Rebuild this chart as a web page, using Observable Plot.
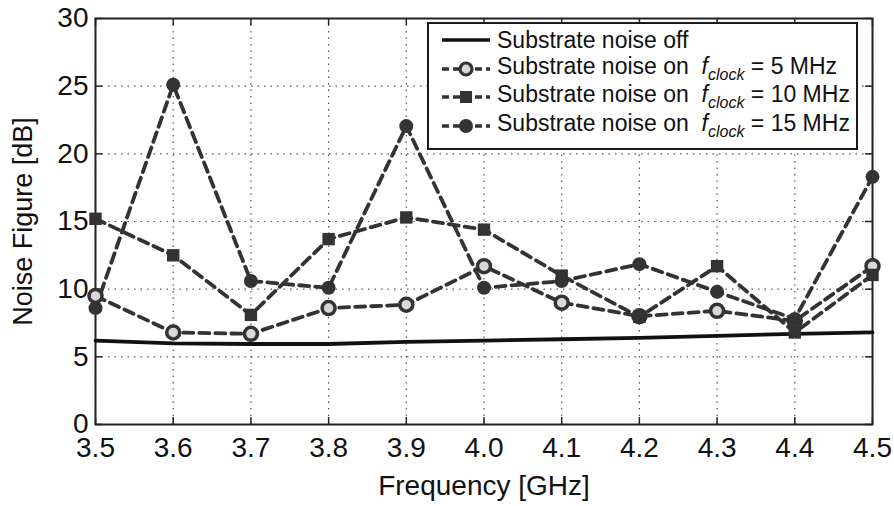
<!DOCTYPE html>
<html>
<head>
<meta charset="utf-8">
<script src="https://cdn.jsdelivr.net/npm/d3@7"></script>
<script src="https://cdn.jsdelivr.net/npm/@observablehq/plot@0.6"></script>
<style>
  html, body { margin: 0; padding: 0; background: #fff; }
  #wrap { position: relative; width: 894px; height: 506px; font-family: "Liberation Sans", Arial, sans-serif; }
  #legend {
    position: absolute; left: 427px; top: 22px; width: 427px; height: 124px;
    border: 2px solid #1a1a1a; background: #fff; box-sizing: content-box;
    font-size: 23px; color: #111; line-height: 1;
  }
  .row { display: flex; align-items: center; height: 28.5px; padding-left: 11px; white-space: nowrap; }
  .row:first-child { margin-top: 2px; }
  .row svg { flex: none; margin-right: 5px; }
  .row i sub { font-size: 16px; }
</style>
</head>
<body>
<div id="wrap"></div>
<script>
const freq = [3.5, 3.6, 3.7, 3.8, 3.9, 4.0, 4.1, 4.2, 4.3, 4.4, 4.5];
const noiseOff = [6.2, 6.0, 5.95, 5.95, 6.1, 6.2, 6.3, 6.4, 6.55, 6.7, 6.8];
const clock5 = [9.5, 6.8, 6.7, 8.6, 8.85, 11.7, 9.0, 8.0, 8.4, 7.65, 11.7];
const clock10 = [15.2, 12.5, 8.1, 13.7, 15.3, 14.4, 11.0, 7.95, 11.7, 6.8, 11.05];
const clock15 = [8.6, 25.1, 10.6, 10.1, 22.05, 10.1, 10.6, 11.85, 9.8, 7.8, 18.3];
const xTicks = [3.5, 3.6, 3.7, 3.8, 3.9, 4.0, 4.1, 4.2, 4.3, 4.4, 4.5];
const yTicks = [0, 5, 10, 15, 20, 25, 30];
const seriesNames = [
  "Substrate noise off",
  "Substrate noise on f_clock = 5 MHz",
  "Substrate noise on f_clock = 10 MHz",
  "Substrate noise on f_clock = 15 MHz"
];

const toRows = (vals) => freq.map((f, i) => ({f, v: vals[i]}));
const d5 = toRows(clock5), d10 = toRows(clock10), d15 = toRows(clock15), dOff = toRows(noiseOff);

const ink = "#333";
const dash = "10,6";
const lw = 3.8;

const W = 894, H = 506, mL = 95, mR = 22, mT = 18, mB = 82;
const plotW = W - mL - mR, plotH = H - mT - mB, tk = 7;

const plot = Plot.plot({
  width: W,
  height: H,
  marginLeft: mL,
  marginRight: mR,
  marginTop: mT,
  marginBottom: mB,
  style: {fontFamily: "'Liberation Sans', Arial, sans-serif", background: "#fff", color: "#111"},
  x: {domain: [3.5, 4.5]},
  y: {domain: [0, 30]},
  marks: [
    Plot.gridX(xTicks, {stroke: "#444", strokeOpacity: 0.9, strokeDasharray: "1.5,5", strokeWidth: 1.2}),
    Plot.gridY(yTicks, {stroke: "#444", strokeOpacity: 0.9, strokeDasharray: "1.5,5", strokeWidth: 1.2}),
    // inward ticks on all four sides
    Plot.ruleX(xTicks, {x: d => d, insetTop: plotH - tk, stroke: "#222", strokeWidth: 1.5}),
    Plot.ruleX(xTicks, {x: d => d, insetBottom: plotH - tk, stroke: "#222", strokeWidth: 1.5}),
    Plot.ruleY(yTicks, {y: d => d, insetRight: plotW - tk, stroke: "#222", strokeWidth: 1.5}),
    Plot.ruleY(yTicks, {y: d => d, insetLeft: plotW - tk, stroke: "#222", strokeWidth: 1.5}),
    // tick labels
    Plot.axisX(xTicks, {anchor: "bottom", tickSize: 0, tickPadding: 13, tickFormat: d3.format(".1f"), fontSize: 28, label: null}),
    Plot.axisY(yTicks, {anchor: "left", tickSize: 0, tickPadding: 7, fontSize: 28, label: null}),
    Plot.frame({stroke: "#222", strokeWidth: 2}),
    // series
    Plot.line(dOff, {x: "f", y: "v", stroke: "#111", strokeWidth: lw}),
    Plot.line(d5, {x: "f", y: "v", stroke: ink, strokeWidth: lw, strokeDasharray: dash}),
    Plot.line(d10, {x: "f", y: "v", stroke: ink, strokeWidth: lw, strokeDasharray: dash}),
    Plot.line(d15, {x: "f", y: "v", stroke: ink, strokeWidth: lw, strokeDasharray: dash}),
    Plot.dot(d5, {x: "f", y: "v", r: 6.5, fill: "#d8d8d8", stroke: ink, strokeWidth: 3.5}),
    Plot.dot(d10, {x: "f", y: "v", symbol: "square", r: 7, fill: ink}),
    Plot.dot(d15, {x: "f", y: "v", r: 7, fill: ink}),
    // axis titles
    Plot.text(["Frequency [GHz]"], {frameAnchor: "bottom", dy: 70, fontSize: 28, fill: "#111", text: d => d}),
    Plot.text(["Noise Figure [dB]"], {frameAnchor: "left", textAnchor: "middle", dx: -72, rotate: -90, fontSize: 27, fill: "#111", text: d => d})
  ]
});

const wrap = document.getElementById("wrap");
wrap.appendChild(plot);

// legend overlay
function sample(kind) {
  const w = 52, h = 20;
  let s = `<svg width="${w}" height="${h}" viewBox="0 0 ${w} ${h}">`;
  if (kind === 0) {
    s += `<line x1="2" x2="${w - 2}" y1="10" y2="10" stroke="#111" stroke-width="3.6"/>`;
  } else {
    s += `<line x1="2" x2="${w - 2}" y1="10" y2="10" stroke="${ink}" stroke-width="3.6" stroke-dasharray="7,4"/>`;
    if (kind === 1) s += `<circle cx="26" cy="10" r="6" fill="#d8d8d8" stroke="${ink}" stroke-width="3.2"/>`;
    if (kind === 2) s += `<rect x="20" y="4" width="12" height="12" fill="${ink}"/>`;
    if (kind === 3) s += `<circle cx="26" cy="10" r="7" fill="${ink}"/>`;
  }
  return s + `</svg>`;
}
const legend = document.createElement("div");
legend.id = "legend";
legend.innerHTML = seriesNames.map((name, i) => {
  let label = name;
  if (name.includes("f_clock")) {
    const [pre, post] = name.split("f_clock");
    label = `${pre}&nbsp;<i>f<sub>clock</sub></i>${post}`;
  }
  return `<div class="row">${sample(i)}<span>${label}</span></div>`;
}).join("");
wrap.appendChild(legend);
</script>
</body>
</html>
